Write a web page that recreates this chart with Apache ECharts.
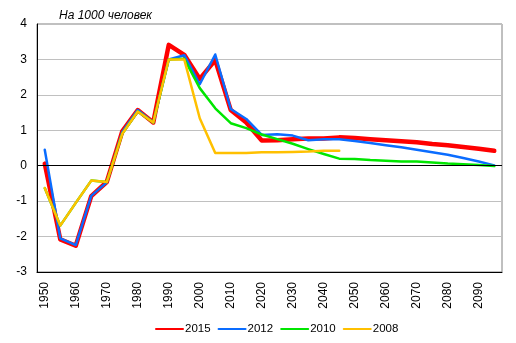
<!DOCTYPE html>
<html>
<head>
<meta charset="utf-8">
<script src="https://cdn.jsdelivr.net/npm/echarts@6/dist/echarts.min.js"></script>
<style>html,body{margin:0;padding:0;background:#fff}#c{width:516px;height:343px}</style>
</head>
<body>
<div id="c"></div>
<script>
var years = [];
for (var y = 1950; y <= 2095; y += 5) years.push(String(y));

var s2015 = [0.06,-2.08,-2.26,-0.86,-0.46,0.97,1.57,1.22,3.41,3.13,2.45,2.98,1.57,1.22,0.71,0.72,0.75,0.77,0.77,0.8,0.78,0.75,0.72,0.69,0.66,0.61,0.58,0.53,0.48,0.42];
var s2012 = [0.45,-2.05,-2.24,-0.85,-0.47,0.95,1.57,1.22,3.0,3.12,2.3,3.14,1.6,1.32,0.87,0.89,0.85,0.72,0.75,0.75,0.7,0.64,0.58,0.52,0.45,0.38,0.31,0.22,0.12,0.01];
var s2010 = [-0.63,-1.69,-1.05,-0.42,-0.46,0.9,1.53,1.22,3.0,3.02,2.19,1.62,1.2,1.06,0.88,0.75,0.62,0.47,0.33,0.2,0.19,0.16,0.14,0.12,0.12,0.09,0.06,0.04,0.02,-0.01];
var s2008 = [-0.63,-1.69,-1.05,-0.42,-0.46,0.9,1.53,1.22,3.0,3.0,1.34,0.36,0.36,0.36,0.38,0.38,0.39,0.4,0.42,0.42];
var seriesNames = ['2015','2012','2010','2008'];
var yTicks = [-3,-2,-1,0,1,2,3,4];
var titleText = 'На 1000 человек';

var chart = echarts.init(document.getElementById('c'), null, {renderer:'canvas'});
var font = 'Arial, "Liberation Sans", sans-serif';
function mk(name, data, color, width, extra) {
  var s = {name:name, type:'line', data:data, symbol:'none', smooth:false,
    lineStyle:{color:color, width:width, cap:'round', join:'round'}, itemStyle:{color:color}, animation:false};
  if (extra) for (var k in extra) s[k] = extra[k];
  return s;
}
chart.setOption({
  backgroundColor:'#fff',
  animation:false,
  title:{text:titleText, left:54, top:5, textStyle:{fontFamily:font, fontSize:12, fontStyle:'italic', fontWeight:'normal', color:'#000'}},
  grid:{left:37, right:14, top:24, bottom:71, show:true, borderColor:'#808080', borderWidth:1, containLabel:false},
  legend:{left:150, top:318, itemWidth:27, itemHeight:10, itemGap:7,
    itemStyle:{opacity:0},
    textStyle:{fontFamily:font, fontSize:11.5, color:'#000', padding:[0,0,0,-3]},
    data:seriesNames},
  xAxis:{type:'category', data:years, boundaryGap:true,
    axisLine:{onZero:false, lineStyle:{color:'#000', width:1}},
    axisTick:{show:false},
    axisLabel:{interval:1, rotate:90, margin:10, fontFamily:font, fontSize:12, color:'#000'},
    splitLine:{show:false}},
  yAxis:{type:'value', min:yTicks[0], max:yTicks[yTicks.length-1], interval:1,
    axisLine:{show:true, lineStyle:{color:'#000', width:1}},
    axisTick:{show:false},
    axisLabel:{margin:10, fontFamily:font, fontSize:12, color:'#000'},
    splitLine:{show:true, lineStyle:{color:'#c0c0c0', width:1}}},
  series:[
    mk(seriesNames[0], s2015, '#ff0000', 4.5, {markLine:{silent:true, symbol:'none', label:{show:false}, lineStyle:{color:'#000', width:1, type:'solid'}, data:[{yAxis:0}], animation:false}, z:2}),
    mk(seriesNames[1], s2012, '#0a6cff', 2.5, {z:3}),
    mk(seriesNames[2], s2010, '#00e600', 2.5, {z:4}),
    mk(seriesNames[3], s2008, '#ffc000', 2.5, {z:5})
  ]
});
</script>
</body>
</html>
